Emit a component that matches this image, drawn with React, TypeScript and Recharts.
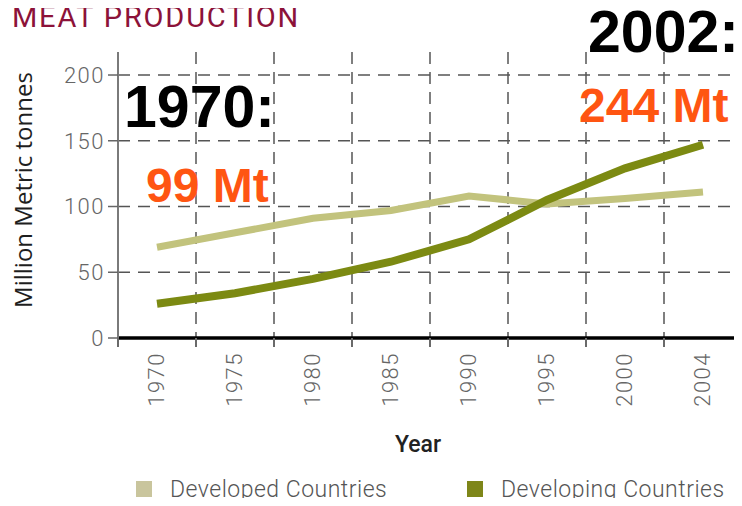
import { CartesianGrid, Label, Legend, Line, LineChart, XAxis, YAxis } from 'recharts';

// years shown on the x axis (one band each)
const YEARS = ['1970', '1975', '1980', '1985', '1990', '1995', '2000', '2004'];
// million metric tonnes
const DEVELOPED = [69, 80, 91, 97, 108, 102, 106, 111];
const DEVELOPING = [26, 34, 45, 58, 75, 105, 129, 147];

const Y_TICKS = [0, 50, 100, 150, 200];
const Y_GRID = [50, 100, 150, 200];
const Y_MAX = 217.5;

const SERIES = [
  { key: 'developed', label: 'Developed Countries', line: '#c2c37d', swatch: '#c9c59d' },
  { key: 'developing', label: 'Developing Countries', line: '#7c8a12', swatch: '#7e8619' },
];

const chartData = YEARS.map((year, i) => ({
  i,
  year,
  developed: DEVELOPED[i],
  developing: DEVELOPING[i],
}));

// band centers carry labels, band edges carry tick marks + grid lines
const centerTicks = YEARS.map((_, i) => i);
const edgeTicks = [...YEARS.map((_, i) => i - 0.5), YEARS.length - 0.5];
const xTicks = [...edgeTicks, ...centerTicks].sort((a, b) => a - b);

const tickFont = 'Roboto, "DejaVu Sans", sans-serif';
const LEGEND_H = 26;

function XTick(props: any) {
  const { x, y, payload } = props;
  const v = payload.value as number;
  if (!Number.isInteger(v)) {
    return <line x1={x} x2={x} y1={y} y2={y + 9} stroke="#6a6a6a" strokeWidth={2} />;
  }
  const tx = x + 7;
  const ty = y + 14;
  return (
    <text
      x={tx}
      y={ty}
      transform={`rotate(-90, ${tx}, ${ty})`}
      textAnchor="end"
      fill="#666"
      fontSize={22}
      letterSpacing={1.5}
      fontFamily={tickFont}
      fontWeight={300}
    >
      {YEARS[v]}
    </text>
  );
}

function YTitle(props: any) {
  const vb = props.viewBox || { x: 0, y: 52, width: 118, height: 286 };
  const cx = 32;
  const cy = vb.y + vb.height / 2 - 5;
  return (
    <text
      x={cx}
      y={cy}
      transform={`rotate(-90, ${cx}, ${cy})`}
      textAnchor="middle"
      fill="#1e1e1e"
      fontSize={24}
      fontWeight={500}
      fontFamily='"Open Sans", sans-serif'
    >
      Million Metric tonnes
    </text>
  );
}

function XTitle(props: any) {
  const vb = props.viewBox || { x: 118, y: 338, width: 624, height: 142 };
  return (
    <text
      x={vb.x + vb.width / 2 - 12}
      y={452}
      textAnchor="middle"
      fill="#222"
      fontSize={23}
      fontWeight={500}
      fontFamily={tickFont}
    >
      Year
    </text>
  );
}

function LegendContent() {
  const lefts = [136, 467];
  return (
    <div style={{ position: 'relative', height: LEGEND_H, width: 742 }}>
      {SERIES.map((s, idx) => (
        <div key={s.key} style={{ position: 'absolute', left: lefts[idx], top: 0, height: LEGEND_H }}>
          <span
            style={{ position: 'absolute', left: 0, top: 3, width: 16, height: 16, background: s.swatch }}
          />
          <span
            style={{
              position: 'absolute',
              left: 34,
              top: 0,
              whiteSpace: 'nowrap',
              fontFamily: tickFont,
              fontWeight: 300,
              fontSize: 23,
              lineHeight: '23px',
              letterSpacing: 0.5,
              color: '#555',
            }}
          >
            {s.label}
          </span>
        </div>
      ))}
    </div>
  );
}

export default function App() {
  return (
    <div style={{ position: 'relative', width: 742, height: 506, margin: -8, overflow: 'hidden', background: '#fff' }}>
      <LineChart width={742} height={506} data={chartData} margin={{ top: 52, right: 0, bottom: 0, left: 0 }}>
        <CartesianGrid
          strokeDasharray="12 8"
          stroke="#555"
          strokeWidth={1.5}
          verticalValues={edgeTicks}
          horizontalValues={Y_GRID}
        />
        <XAxis
          dataKey="i"
          type="number"
          domain={[-0.5, YEARS.length - 0.5]}
          ticks={xTicks}
          interval={0}
          tick={<XTick />}
          tickLine={false}
          tickSize={0}
          tickMargin={0}
          height={168 - LEGEND_H}
          axisLine={{ stroke: '#000', strokeWidth: 3.5 }}
        >
          <Label content={<XTitle />} />
        </XAxis>
        <YAxis
          width={118}
          domain={[0, Y_MAX]}
          ticks={Y_TICKS}
          interval={0}
          tickSize={10}
          tickMargin={3}
          tickLine={{ stroke: '#666', strokeWidth: 1.5 }}
          axisLine={{ stroke: '#7a7a7a', strokeWidth: 2 }}
          tick={{ fill: '#666', fontSize: 22, fontFamily: tickFont, fontWeight: 300, letterSpacing: 1.5 }}
        >
          <Label content={<YTitle />} />
        </YAxis>
        <Legend
          verticalAlign="bottom"
          height={LEGEND_H}
          wrapperStyle={{ left: 0, top: 478, width: 742, height: LEGEND_H }}
          content={<LegendContent />}
        />
        {SERIES.map((s, idx) => (
          <Line
            key={s.key}
            type="linear"
            dataKey={s.key}
            name={s.label}
            stroke={s.line}
            strokeWidth={idx === 0 ? 7 : 8}
            dot={false}
            activeDot={false}
            isAnimationActive={false}
          />
        ))}
      </LineChart>
      <svg
        width={742}
        height={506}
        style={{ position: 'absolute', left: 0, top: 0, pointerEvents: 'none' }}
      >
        <text x={12} y={27} fill="#8c1239" fontSize={29} fontWeight={400} letterSpacing={1.8} fontFamily={tickFont}>
          MEAT PRODUCTION
        </text>
        <g fontFamily='"Liberation Sans", Arial, sans-serif' fontWeight={700}>
          <text x={124} y={127} fill="#000" fontSize={59}>1970:</text>
          <text x={146} y={202} fill="#ff5512" fontSize={48}>99 Mt</text>
          <text x={588} y={52} fill="#000" fontSize={59}>2002:</text>
          <text x={579} y={122} fill="#ff5512" fontSize={48}>244 Mt</text>
        </g>
      </svg>
    </div>
  );
}
